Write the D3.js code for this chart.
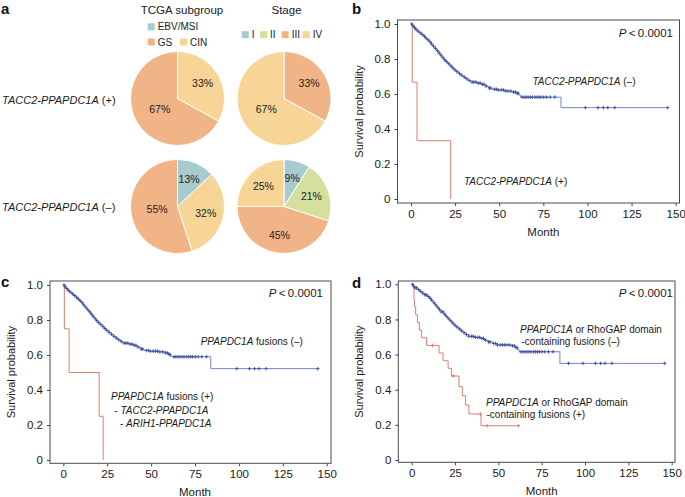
<!DOCTYPE html>
<html><head><meta charset="utf-8">
<script src="https://cdn.jsdelivr.net/npm/d3@7"></script>
<style>body{margin:0;background:#fff}svg{display:block;font-family:"Liberation Sans",Arial,Helvetica,sans-serif}</style>
</head><body><svg id="chart" width="685" height="497"></svg>
<script>
// ---------------- DATA ----------------
const tcgaCats = ["EBV/MSI", "CIN", "GS"];
const tcgaFusionPos = [0, 33, 67];
const tcgaFusionNeg = [13, 32, 55];
const stageCats = ["I", "II", "III", "IV"];
const stageFusionPos = [0, 0, 33, 67];
const stageFusionNeg = [9, 21, 45, 25];

const monthTicks = [0, 25, 50, 75, 100, 125, 150];
const survTicks = [0, 0.2, 0.4, 0.6, 0.8, 1.0];

// Kaplan-Meier steps [month, survival]
const bNegSteps = [[0,1],[0.7,0.99],[1.5,0.98],[2.5,0.97],[3.5,0.96],[4.5,0.95],[5.8,0.94],[7,0.93],[8,0.92],[9,0.91],[10,0.9],[11,0.887],[12,0.874],[13,0.861],[14.2,0.848],[15.3,0.835],[16.4,0.822],[17.4,0.809],[18.4,0.796],[19.5,0.785],[20.8,0.773],[22,0.761],[23.2,0.749],[24.5,0.737],[25.8,0.727],[27,0.717],[28.2,0.707],[29.5,0.697],[31,0.687],[32.5,0.677],[34,0.668],[37.5,0.662],[40,0.655],[42,0.645],[44,0.634],[46,0.627],[49,0.623],[53,0.617],[57,0.611],[59.5,0.604],[61,0.594],[62,0.582],[85,0.522]];
const bNegEnd = 145.5;
const bPosSteps = [[0,1],[0.7,0.667],[3.4,0.333],[22.5,0]];
const bPosEnd = 22.5;

const cNegSteps = [[0,1],[0.7,0.99],[1.5,0.98],[2.5,0.97],[3.6,0.96],[4.7,0.95],[6,0.94],[7.2,0.93],[8.3,0.92],[9.3,0.91],[10.3,0.899],[11.3,0.886],[12.3,0.873],[13.4,0.86],[14.5,0.847],[15.6,0.834],[16.7,0.821],[17.7,0.808],[18.7,0.796],[19.8,0.785],[21,0.774],[22.2,0.762],[23.4,0.751],[24.7,0.74],[26,0.729],[27.2,0.718],[28.4,0.707],[29.7,0.697],[31.2,0.687],[32.7,0.677],[34,0.668],[37.5,0.662],[40,0.655],[42,0.645],[44,0.634],[46,0.626],[49,0.622],[54,0.618],[58,0.612],[60,0.603],[61.3,0.59],[84,0.522]];
const cNegEnd = 145;
const cPosSteps = [[0,1],[0.6,0.75],[3.3,0.5],[20.4,0.25],[22.7,0]];
const cPosEnd = 22.7;

const dNegSteps = [[0,1],[0.8,0.99],[1.8,0.98],[3,0.97],[4.5,0.96],[6,0.95],[7.5,0.94],[9,0.93],[10.5,0.92],[11.5,0.908],[12.5,0.895],[13.5,0.882],[14.6,0.869],[15.8,0.856],[17,0.843],[18.2,0.83],[19.4,0.817],[20.6,0.804],[21.8,0.792],[23,0.78],[24.3,0.768],[25.6,0.757],[27,0.746],[28.5,0.735],[30,0.724],[31.5,0.714],[33,0.704],[36,0.698],[39.5,0.692],[42,0.682],[44,0.672],[46.5,0.663],[49,0.655],[57.5,0.65],[59.5,0.64],[61,0.628],[62,0.616],[85.5,0.55]];
const dNegEnd = 146;
const dPosSteps = [[0,1],[1.3,0.913],[1.6,0.87],[2.3,0.826],[3.3,0.783],[4.4,0.739],[5.7,0.696],[8.6,0.652],[15.8,0.609],[18.1,0.565],[21,0.522],[22.9,0.478],[27.3,0.417],[29.2,0.366],[31,0.313],[33,0.262],[40,0.195]];
const dPosEnd = 61.7;

// censoring times
const negCensor = [0.4,1.1,2,2.8,3.9,5.2,6.4,7.6,8.5,9.6,10.7,11.6,12.8,13.9,15,16,17,18.1,19.1,20.2,21.4,22.6,23.7,24.9,26.1,27.5,28.8,30.2,31.6,33,34.6,35.6,36.8,38.1,39.2,40.5,41.4,42.6,44.4,45.2,47.3,48.4,49.5,51.1,52.4,53.7,55,56.6,58.1,59.2,60.2,60.8,63,64.1,65.3,66.4,67.7,68.8,70.3,71.5,72.6,73.7,75.2,76.8,78.9,81.5,98.8,106,109,111.5,115.5];
const dNegCensorExtra = [90.5];
const dPosCensor = [12, 24, 39.7, 43.6];

// ---------------- DRAW ----------------
const svg = d3.select("#chart");
const FONT = '"Liberation Sans", Arial, Helvetica, sans-serif';
const catColor = {"EBV/MSI":"#a7cbce","I":"#a7cbce","II":"#d5e09f","GS":"#f0b487","III":"#f0b487","CIN":"#f6d596","IV":"#f6d596"};
const BLUE_LINE = "#7483c6", BLUE_MARK = "#3a4b9c", RED = "#dd7d70";

function richText(g, x, y, parts, opts = {}) {
  const t = g.append("text").attr("x", x).attr("y", y)
    .attr("font-size", opts.size || 10).attr("fill", "#1a1a1a")
    .attr("text-anchor", opts.anchor || "start");
  parts.forEach(p => {
    t.append("tspan").text(p[0]).attr("font-style", p[1] ? "italic" : "normal");
  });
  return t;
}

// panel labels
[["a",1,14],["b",352,14],["c",1,287],["d",352,288]].forEach(d => {
  svg.append("text").attr("x", d[1]).attr("y", d[2]).attr("font-size", 15)
    .attr("font-weight", "bold").attr("fill", "#111").text(d[0]);
});

// ---- Panel a: pies ----
const pieR = 47;
const pie = d3.pie().sort(null).value(d => d.v);
const arc = d3.arc().innerRadius(0).outerRadius(pieR);
const smallLabelArc = d3.arc().innerRadius(pieR * 0.62).outerRadius(pieR * 0.62);
const bigLabelArc = d3.arc().innerRadius(pieR * 0.44).outerRadius(pieR * 0.44);

function drawPie(cx, cy, cats, vals) {
  const g = svg.append("g").attr("transform", `translate(${cx},${cy})`);
  const data = cats.map((c, i) => ({c, v: vals[i]}));
  const arcs = pie(data).filter(a => a.data.v > 0);
  g.selectAll("path").data(arcs).join("path")
    .attr("d", arc).attr("fill", d => catColor[d.data.c])
    .attr("stroke", "#fff").attr("stroke-width", 1);
  g.selectAll("text").data(arcs).join("text")
    .attr("transform", d => `translate(${(d.data.v > 50 ? bigLabelArc : smallLabelArc).centroid(d)})`)
    .attr("text-anchor", "middle").attr("dy", "0.35em")
    .attr("font-size", 10.5).attr("fill", "#222")
    .text(d => d.data.v + "%");
}
drawPie(177.5, 98.5, tcgaCats, tcgaFusionPos);
drawPie(284, 98.5, stageCats, stageFusionPos);
drawPie(177.5, 206.5, tcgaCats, tcgaFusionNeg);
drawPie(284, 206.5, stageCats, stageFusionNeg);

// titles
svg.append("text").attr("x", 182).attr("y", 14).attr("text-anchor", "middle").attr("font-size", 11.5).attr("fill", "#1a1a1a").text("TCGA subgroup");
svg.append("text").attr("x", 286.5).attr("y", 14).attr("text-anchor", "middle").attr("font-size", 11.5).attr("fill", "#1a1a1a").text("Stage");

// legends
const legendItems = [
  ["EBV/MSI", 147.7, 23.3], ["GS", 147.7, 38.5], ["CIN", 180, 38.5],
  ["I", 241.7, 31.2], ["II", 260, 31.2], ["III", 281.7, 31.2], ["IV", 302.7, 31.2]
];
legendItems.forEach(([c, x, y]) => {
  svg.append("rect").attr("x", x).attr("y", y).attr("width", 7).attr("height", 7).attr("fill", catColor[c]);
  svg.append("text").attr("x", x + 10).attr("y", y + 7).attr("font-size", 10).attr("fill", "#1a1a1a").text(c);
});

// row labels
richText(svg, 2, 104, [["TACC2-PPAPDC1A", true], [" (+)", false]], {size: 11});
richText(svg, 2, 211, [["TACC2-PPAPDC1A", true], [" (\u2013)", false]], {size: 11});

// ---- KM panels ----
function stepAt(steps, t) {
  let s = steps[0][1];
  for (const p of steps) { if (p[0] <= t) s = p[1]; else break; }
  return s;
}

function kmPanel(cfg) {
  const g = svg.append("g");
  const x = d3.scaleLinear().domain([0, 150]).range([cfg.x0, cfg.x150]);
  const y = d3.scaleLinear().domain([0, 1]).range([cfg.y0, cfg.y1]);
  const [fl, ft, fr, fb] = cfg.frame;

  const xa = g.append("g").attr("transform", `translate(0,${fb})`)
    .call(d3.axisBottom(x).tickValues(monthTicks).tickSize(3).tickPadding(4).tickSizeOuter(0));
  const ya = g.append("g").attr("transform", `translate(${fl},0)`)
    .call(d3.axisLeft(y).tickValues(survTicks).tickSize(3).tickPadding(4).tickSizeOuter(0)
      .tickFormat(d => d === 0 ? "0" : d3.format(".1f")(d)));
  [xa, ya].forEach(a => {
    a.select(".domain").remove();
    a.selectAll("line").attr("stroke", "#444");
    a.selectAll("text").attr("font-size", 11.5).attr("fill", "#1a1a1a").attr("font-family", FONT);
  });
  g.append("rect").attr("x", fl).attr("y", ft).attr("width", fr - fl).attr("height", fb - ft)
    .attr("fill", "none").attr("stroke", "#4a4a4a").attr("stroke-width", 1);

  g.append("text").attr("x", (cfg.x0 + cfg.x150) / 2).attr("y", fb + 33)
    .attr("text-anchor", "middle").attr("font-size", 11.5).attr("fill", "#1a1a1a").text("Month");
  g.append("text").attr("transform", `translate(${cfg.ylabX},${(ft + fb) / 2}) rotate(-90)`)
    .attr("text-anchor", "middle").attr("font-size", 11).attr("fill", "#1a1a1a").text("Survival probability");

  const line = d3.line().x(d => x(d[0])).y(d => y(d[1])).curve(d3.curveStepAfter);
  cfg.series.forEach(s => {
    const pts = s.steps.concat([[s.end, s.steps[s.steps.length - 1][1]]]);
    g.append("path").attr("d", line(pts)).attr("fill", "none")
      .attr("stroke", s.line).attr("stroke-width", 1);
    g.selectAll(null).data(s.censor.filter(t => t <= s.end)).join("path")
      .attr("transform", t => `translate(${x(t)},${y(stepAt(s.steps, t))})`)
      .attr("d", "M-1.6,0H1.6M0,-1.8V1.8").attr("stroke", s.mark).attr("stroke-width", 0.9);
  });

  richText(g, cfg.pX, cfg.pY, [["P", true], ["\u2009<\u20090.0001", false]], {size: 11.5, anchor: "end"});
  cfg.notes.forEach(n => richText(g, n.x, n.y, n.parts, {size: 10}));
}

kmPanel({
  frame: [397.5, 20, 679.5, 203], x0: 411, x150: 675.7, y0: 199, y1: 24, ylabX: 363,
  pX: 673, pY: 37,
  series: [
    {steps: bPosSteps, end: bPosEnd, censor: [], line: RED, mark: RED},
    {steps: bNegSteps, end: bNegEnd, censor: negCensor.concat([bNegEnd]), line: BLUE_LINE, mark: BLUE_MARK}
  ],
  notes: [
    {x: 532.5, y: 85, parts: [["TACC2-PPAPDC1A", true], [" (\u2013)", false]]},
    {x: 464, y: 185, parts: [["TACC2-PPAPDC1A", true], [" (+)", false]]}
  ]
});

kmPanel({
  frame: [50, 281, 331, 463.3], x0: 63.3, x150: 326.7, y0: 460, y1: 285, ylabX: 15,
  pX: 323, pY: 297,
  series: [
    {steps: cPosSteps, end: cPosEnd, censor: [], line: RED, mark: RED},
    {steps: cNegSteps, end: cNegEnd, censor: negCensor.concat([cNegEnd]), line: BLUE_LINE, mark: BLUE_MARK}
  ],
  notes: [
    {x: 200.7, y: 345, parts: [["PPAPDC1A", true], [" fusions (\u2013)", false]]},
    {x: 111, y: 400, parts: [["PPAPDC1A", true], [" fusions (+)", false]]},
    {x: 114.3, y: 413.5, parts: [["- ", false], ["TACC2-PPAPDC1A", true]]},
    {x: 120, y: 427, parts: [["- ", false], ["ARIH1-PPAPDC1A", true]]}
  ]
});

kmPanel({
  frame: [398.3, 281, 675, 462.3], x0: 411.7, x150: 671.7, y0: 460, y1: 284.3, ylabX: 363,
  pX: 673, pY: 297,
  series: [
    {steps: dPosSteps, end: dPosEnd, censor: dPosCensor.concat([dPosEnd]), line: RED, mark: RED},
    {steps: dNegSteps, end: dNegEnd, censor: negCensor.concat(dNegCensorExtra, [dNegEnd]), line: BLUE_LINE, mark: BLUE_MARK}
  ],
  notes: [
    {x: 520, y: 333, parts: [["PPAPDC1A", true], [" or RhoGAP domain", false]]},
    {x: 521.5, y: 344.5, parts: [["-containing fusions (\u2013)", false]]},
    {x: 486, y: 406, parts: [["PPAPDC1A", true], [" or RhoGAP domain", false]]},
    {x: 486.5, y: 418, parts: [["-containing fusions (+)", false]]}
  ]
});
</script></body></html>
